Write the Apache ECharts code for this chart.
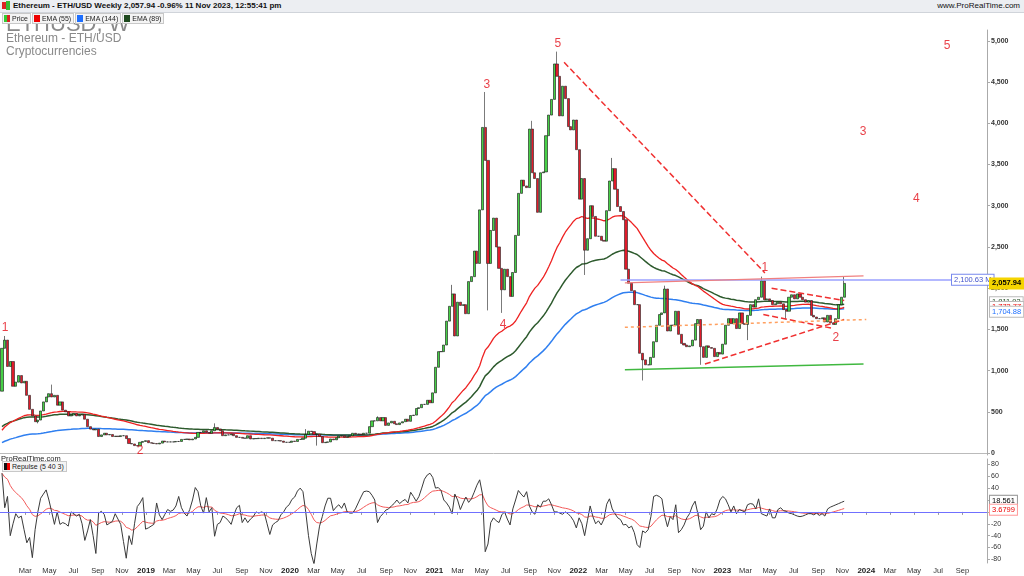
<!DOCTYPE html>
<html><head><meta charset="utf-8">
<script src="https://cdn.jsdelivr.net/npm/echarts@6/dist/echarts.min.js"></script>
<style>
body{margin:0;width:1024px;height:576px;overflow:hidden;background:#fff;font-family:"Liberation Sans",Arial,sans-serif;}
#c{position:absolute;left:0;top:0;width:1024px;height:576px;}
.hdr{position:absolute;left:0;top:0;width:1024px;height:12px;background:#eceef2;border-bottom:1px solid #d0d4da;font-size:8px;line-height:12px;}
.legrow{position:absolute;left:2px;top:13px;display:flex;gap:1px;}
.leg{height:9px;border:1px solid #c8c8c8;background:#f4f4f4;font-size:7px;line-height:9px;padding:0 2px 0 1px;color:#222;white-space:nowrap;}
.sq{display:inline-block;width:6px;height:7px;vertical-align:-1px;margin-right:2px;}
.t{position:absolute;color:#8a8a8a;white-space:nowrap;}
</style></head><body>
<div id="c"></div>
<div class="hdr"><span style="position:absolute;left:2px;top:2px;width:4px;height:7px;background:#d22;"></span><span style="position:absolute;left:6px;top:1px;width:4px;height:9px;background:#3b3;"></span>
<b style="position:absolute;left:13px;color:#111;">Ethereum - ETH/USD Weekly 2,057.94 -0.96% 11 Nov 2023, 12:55:41 pm</b>
<span style="position:absolute;right:4px;color:#111;">www.ProRealTime.com</span></div>
<div class="t" style="left:6px;top:13px;font-size:22px;line-height:22px;clip-path:inset(10px 0 0 0);">ETHUSD, W</div>
<div class="legrow">
<div class="leg"><span class="sq" style="background:linear-gradient(90deg,#3c3 50%,#d22 50%)"></span>Price</div>
<div class="leg"><span class="sq" style="background:#e00"></span>EMA (55)</div>
<div class="leg"><span class="sq" style="background:#1e6fff"></span>EMA (144)</div>
<div class="leg"><span class="sq" style="background:#1f4a1f"></span>EMA (89)</div>
</div>
<div class="t" style="left:6px;top:31px;font-size:12px;">Ethereum - ETH/USD</div>
<div class="t" style="left:6px;top:44px;font-size:12px;">Cryptocurrencies</div>
<div style="position:absolute;left:1px;top:454px;font-size:7.5px;color:#222;">ProRealTime.com</div>
<div class="legrow" style="top:461px;"><div class="leg"><span class="sq" style="background:linear-gradient(90deg,#111 50%,#e00 50%)"></span>Repulse (5 40 3)</div></div>
<script>
// ---- data ----
const startDate = '2018-01-01';
const firstOpen = 750;
const closes = [
1270,1370,1050,1110,810,860,940,850,870,700,530,450,380,400,510,620,680,720,680,700,580,620,520,500,450,460,480,450,460,470,410,320,290,280,290,200,220,240,220,225,200,205,200,210,210,175,115,110,90,85,130,140,
150,125,120,115,110,120,145,135,135,135,135,140,140,165,165,170,160,170,190,250,250,270,250,240,270,310,290,270,210,220,220,230,210,190,190,180,180,210,170,175,175,180,175,180,185,180,150,150,150,145,130,130,
130,145,140,165,165,180,225,265,260,225,230,200,125,130,135,170,160,185,205,210,190,200,210,240,230,230,225,240,240,320,390,390,430,390,430,335,365,385,355,345,365,380,410,385,455,460,540,550,590,590,640,610,
730,1040,1230,1230,1310,1600,1780,1930,1420,1830,1790,1800,1690,2080,2140,2450,2300,2950,3950,3550,2300,2700,2850,2500,2240,1980,2230,2140,1900,2190,2640,3150,3310,3240,3220,3930,3400,3330,2920,3400,3410,3850,4100,4290,4720,4570,4090,4450,4300,3960,3920,4040,3680,
3080,3330,2460,2600,3000,2870,2630,2630,2580,2570,2940,3300,3450,3200,2990,2930,2830,2230,2060,1970,1800,1800,1210,1130,1070,1070,1160,1350,1550,1680,1700,1990,1480,1550,1550,1720,1440,1330,1310,1290,1300,1370,1570,1620,1290,1160,1300,1280,1270,1170,1220,1200,
1320,1550,1630,1570,1630,1510,1700,1570,1560,1670,1800,1770,1860,1890,2090,1860,1870,1850,1800,1810,1830,1810,1740,1720,1890,1920,1870,1930,1890,1860,1830,1850,1670,1650,1630,1630,1640,1590,1670,1580,1560,1630,1800,1890,2057.94];
const wickHighs = {'2018-01-08':1420,'2018-05-07':830,'2019-06-24':360,'2020-02-10':290,'2020-08-10':445,'2021-02-15':2040,'2021-05-10':4380,'2021-09-06':4030,'2021-11-08':4870,'2022-03-28':3580,'2022-08-08':2030,'2023-04-10':2140,'2023-11-06':2136};
const wickLows = {'2018-04-02':360,'2018-12-10':82,'2020-03-09':90,'2021-05-17':1730,'2021-06-21':1700,'2022-01-17':2160,'2022-06-13':880,'2022-11-07':1070,'2023-03-06':1370,'2023-06-12':1620};
const repulse = [
65,7,26,-40,-20,-3,-10,-7,-30,-52,-43,-77,
-30,0,23,30,37,20,0,-21,0,-21,-18,-20,-24,
0,-3,-7,-4,-20,-48,-32,-13,-40,-70,-2,
1,-4,-22,-19,-16,-3,-12,-21,-50,-78,-40,-55,-20,
9,15,24,-29,-27,-24,-21,15,-5,-13,-4,4,
1,3,10,26,7,-2,-7,4,20,41,34,10,
-2,24,0,7,-41,-21,-18,-7,-10,-15,-21,-5,7,11,-18,-10,-18,
-12,-8,0,-2,0,-2,-20,-38,-22,-18,-15,-5,0,8,12,21,25,35,
40,34,0,-40,-70,-88,-54,-24,-8,10,23,
23,2,8,12,6,15,0,-2,-2,5,15,25,34,35,
34,28,20,-18,-8,-3,3,5,10,14,20,14,18,21,
15,33,26,18,26,40,55,62,65,58,
40,41,36,20,15,8,-3,30,20,4,
15,25,16,22,33,45,54,30,-67,-54,
-18,-10,-15,-18,-5,0,-12,-22,5,20,36,30,25,34,
10,0,-4,12,8,18,18,22,12,0,0,-2,-4,0,-3,-8,-15,
-27,-10,-20,-40,-15,10,-8,-20,-15,-22,-12,13,22,
5,-3,-10,-13,-22,-21,-27,-24,-35,-55,-60,-32,-35,-30,-8,
26,28,26,22,-7,-25,-8,-13,12,-35,-30,-22,
-10,-3,10,18,-3,-30,-24,0,-10,-3,-5,5,20,26,
22,12,0,10,-3,4,2,0,12,14,13,5,22,-3,
-5,-7,5,-10,-10,4,7,2,1,-2,-3,-5,-7,-8,-7,-5,-3,-3,-5,-2,-6,-3,-7,5,8,10,12,14,16,18];
const emaPeriods = {ema55:55, ema89:89, ema144:144};
const emaSeeds = {ema55:240, ema89:300, ema144:110};
const repulseSlowPeriod = 17, repulseSlowSeed = 65;
const priceTicks = [0,500,1000,1500,2000,2500,3000,3500,4000,4500,5000];
const repTicks = [-80,-60,-40,-20,0,20,40,60,80];
const waves = [['2018-01-09',1525,'1'],['2018-12-17',25,'2'],['2021-05-14',4465,'3'],['2021-06-24',1560,'4'],['2021-11-10',4960,'5'],['2023-04-19',2245,'1'],['2023-10-16',1400,'2'],['2023-12-24',3900,'3'],['2024-05-07',3085,'4'],['2024-07-24',4945,'5']];
const trendLines = [
 {a:['2021-11-26',4740],b:['2023-04-19',2185],c:'#f03030',t:'dashed',w:1.5},
 {a:['2023-05-06',2000],b:['2023-11-06',1850],c:'#f03030',t:'dashed',w:1.5},
 {a:['2023-04-15',1680],b:['2023-10-10',1510],c:'#f03030',t:'dashed',w:1.5},
 {a:['2022-11-18',1080],b:['2023-11-06',1620],c:'#f03030',t:'dashed',w:1.5},
 {a:['2022-04-29',1525],b:['2024-01-01',1620],c:'#ffa060',t:[3,3],w:1.5},
 {a:['2022-04-29',1010],b:['2023-12-25',1080],c:'#40b840',t:'solid',w:1.5},
 {a:['2022-04-18',2100.63],b:['2024-11-02',2100.63],c:'#9aa0ff',t:'solid',w:1.5},
 {a:['2022-04-29',2065],b:['2023-12-25',2150],c:'#f08080',t:'solid',w:1.2}];
const tags = [
 {axis:0,v:2100.63,text:'2,100.63 M',x:952,fg:'#4455cc',bg:'#fff',bd:'#7788ee'},
 {axis:0,v:2057.94,text:'2,057.94',x:990,fg:'#000',bg:'#f5d400',bd:'#f5d400',bold:true},
 {axis:0,v:1830,text:'1,811.93',x:990,fg:'#1f4a1f',bg:'#fff',bd:'#bbb'},
 {axis:0,v:1773,text:'1,773.77',x:990,fg:'#e00',bg:'#fff',bd:'#bbb'},
 {axis:0,v:1715,text:'1,704.88',x:990,fg:'#1e6fff',bg:'#fff',bd:'#bbb'},
 {axis:1,v:18.561,text:'18.561',x:990,fg:'#000',bg:'#fff',bd:'#999'},
 {axis:1,v:3.68,text:'3.6799',x:990,fg:'#e00',bg:'#fff',bd:'#f99'}];

// ---- build ----
const t0 = Date.parse(startDate+'T00:00:00Z'), WEEK = 7*864e5;
const iso = t => new Date(t).toISOString().slice(0,10);
const ts = s => Date.parse(s+'T00:00:00Z');
const dates = closes.map((_,i)=>t0+i*WEEK);
const candles = closes.map((c,i)=>{
  const o = i===0?firstOpen:closes[i-1], d=iso(dates[i]);
  const hi = Math.max(o,c,wickHighs[d]||0), lo = Math.min(o,c,wickLows[d]||1e9);
  return [dates[i],o,c,lo,hi];
});
function ema(arr,p,seed){let e=seed;const k=2/(p+1);return arr.map(v=>(e=e+k*(v-e)));}
const e55=ema(closes,emaPeriods.ema55,emaSeeds.ema55), e89=ema(closes,emaPeriods.ema89,emaSeeds.ema89), e144=ema(closes,emaPeriods.ema144,emaSeeds.ema144);
const n=Math.min(repulse.length,dates.length);
const rep=repulse.slice(0,n), repSlow=ema(rep,repulseSlowPeriod,repulseSlowSeed);
const months=[]; for(let y=2018;y<=2024;y++)for(let m=0;m<12;m+=2){if(y===2018&&m===0)continue;if(y===2024&&m>8)continue;months.push(Date.UTC(y,m,1));}
const xMin=ts('2017-12-27'), xMax=ts('2024-11-02');
const fmtNum=v=>v.toLocaleString('en-US');
const mn=['Jan','Feb','Mar','Apr','May','Jun','Jul','Aug','Sep','Oct','Nov','Dec'];

const chart=echarts.init(document.getElementById('c'));
const lineS=(data,color,xi,yi,w)=>({type:'line',xAxisIndex:xi,yAxisIndex:yi,data,showSymbol:false,symbol:'none',lineStyle:{color,width:w||1.3},silent:true,z:3});
chart.setOption({
 animation:false,
 grid:[{left:0,right:37,top:30,height:425},{left:0,right:37,top:459,height:104}],
 xAxis:[
  {type:'time',gridIndex:0,min:xMin,max:xMax,axisLabel:{show:false},axisTick:{show:false},axisLine:{lineStyle:{color:'#bbb'}},splitLine:{show:false}},
  {type:'value',gridIndex:1,min:xMin,max:xMax,axisLine:{lineStyle:{color:'#999'}},splitLine:{show:false},
   axisTick:{customValues:months,length:3,lineStyle:{color:'#999'}},
   axisLabel:{customValues:months,fontSize:7.5,color:'#333',margin:4,
    formatter:v=>{const d=new Date(v);return d.getUTCMonth()===0?'{b|'+d.getUTCFullYear()+'}':mn[d.getUTCMonth()];},
    rich:{b:{fontWeight:'bold',fontSize:8,color:'#222'}}}}],
 yAxis:[
  {type:'value',gridIndex:0,position:'right',min:-24,max:5132,axisLine:{show:true,lineStyle:{color:'#aaa'}},axisTick:{show:true,customValues:priceTicks,length:3},
   axisLabel:{customValues:priceTicks,fontSize:7,color:'#333',fontWeight:'bold',margin:4,formatter:fmtNum},splitLine:{show:false}},
  {type:'value',gridIndex:1,position:'right',min:-86,max:89,axisLine:{show:true,lineStyle:{color:'#aaa'}},axisTick:{show:true,customValues:repTicks,length:3},
   axisLabel:{customValues:repTicks,fontSize:7,color:'#333',margin:4},splitLine:{show:false}}],
 series:[
  lineS(dates.map((d,i)=>[d,e144[i]]),'#2f7ff0',0,0,1.5),
  lineS(dates.map((d,i)=>[d,e89[i]]),'#2d5a2d',0,0,1.5),
  lineS(dates.map((d,i)=>[d,e55[i]]),'#ee2222',0,0,1.3),
  {type:'candlestick',xAxisIndex:0,yAxisIndex:0,data:candles.map(c=>[c[0],c[1],c[2],c[3],c[4]]),barWidth:2.6,z:4,
   itemStyle:{color:'#46d046',color0:'#e01b2a',borderColor:'#111',borderColor0:'#222',borderWidth:0.6},
   markLine:{symbol:'none',silent:true,label:{show:false},data:trendLines.map(l=>[{coord:[ts(l.a[0]),l.a[1]],lineStyle:{color:l.c,type:l.t,width:l.w}},{coord:[ts(l.b[0]),l.b[1]]}])}},
  {type:'scatter',xAxisIndex:0,yAxisIndex:0,symbolSize:0,data:waves.map(w=>[ts(w[0]),w[1],w[2]]),
   label:{show:true,position:'inside',formatter:p=>p.data[2],color:'#e4101a',fontSize:12},z:6},
  lineS(dates.slice(0,n).map((d,i)=>[d,repSlow[i]]),'#f25a5a',1,1,1),
  lineS(dates.slice(0,n).map((d,i)=>[d,rep[i]]),'#3a3a3a',1,1,1),
  {type:'line',xAxisIndex:1,yAxisIndex:1,data:[],markLine:{symbol:'none',silent:true,label:{show:false},lineStyle:{color:'#7070ff',type:'solid',width:1},data:[{yAxis:0}]}}
 ]
});
const g=tags.map(t=>{const y=chart.convertToPixel({yAxisIndex:t.axis},t.v);
 return {type:'text',x:t.x,y:y,style:{text:t.text,fill:t.fg,backgroundColor:t.bg,borderColor:t.bd,borderWidth:1,padding:[1,2],fontSize:7.5,fontWeight:t.bold?'bold':'normal',verticalAlign:'middle'},z:100};});
chart.setOption({graphic:g});
</script></body></html>
